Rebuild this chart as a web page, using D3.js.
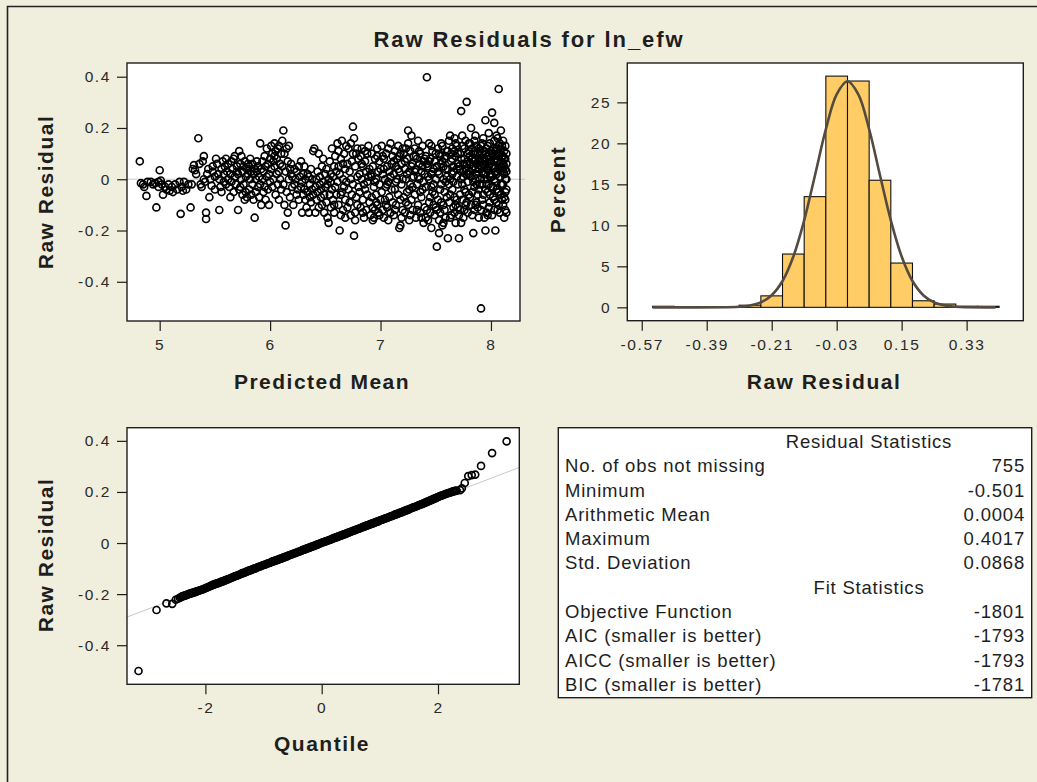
<!DOCTYPE html>
<html><head><meta charset="utf-8">
<script src="https://cdn.jsdelivr.net/npm/d3@7"></script>
<style>
html,body{margin:0;padding:0;background:#F0EEDC;}
svg{display:block;}
</style></head><body>
<svg id="chart" width="1037" height="782"></svg>
<script>
// ---------------- DATA ----------------
const chartTitle = "Raw Residuals for ln_efw";

// Panel 1: predicted mean vs raw residual
const scatterPoints = [
[4.82,.07],[4.83,-.015],[4.85,-.02],[4.86,-.03],[4.88,-.065],[4.89,-.01],
[4.92,-.01],[4.94,-.02],[4.96,-.015],[4.97,-.11],[4.99,-.03],[4.99,-.01],
[5.0,.035],[5.01,-.005],[5.02,-.02],[5.03,-.06],[5.05,-.03],[5.06,-.04],[5.08,-.02],[5.09,-.045],
[5.11,-.03],[5.12,-.05],[5.14,-.02],[5.16,-.04],[5.18,-.01],[5.19,-.135],[5.2,-.03],
[5.21,-.045],[5.22,-.01],[5.24,-.04],[5.26,-.02],[5.28,-.11],[5.29,-.02],[5.3,.04],
[5.31,.055],[5.32,.035],[5.33,.02],[5.35,.16],[5.36,.06],[5.37,-.02],[5.38,-.03],[5.39,.07],[5.4,.09],[5.4,0],
[5.41,-.01],[5.42,-.13],[5.42,-.155],[5.43,.02],[5.44,.04],[5.45,-.07],[5.46,0],[5.47,-.025],[5.48,.05],[5.48,.03],[5.5,-.04],[5.5,.01],
[5.51,.08],[5.52,.06],[5.53,.02],[5.54,-.12],[5.54,0],[5.55,-.03],[5.56,.04],[5.57,.07],[5.58,-.01],[5.58,.02],[5.59,.05],[5.6,-.02],[5.6,.08],[5.56,-.05],
[5.61,.03],[5.62,0],[5.62,.06],[5.63,-.03],[5.64,.02],[5.65,.07],[5.65,-.01],[5.66,.04],[5.67,-.05],[5.68,.01],[5.68,.09],[5.69,-.02],[5.7,.03],[5.7,.05],[5.67,.08],[5.64,-.07],
[5.71,-.12],[5.71,.02],[5.72,.11],[5.72,-.04],[5.73,.06],[5.74,0],[5.74,.09],[5.75,-.06],[5.75,.03],[5.76,.05],[5.76,-.02],[5.77,-.08],[5.77,.07],[5.78,.01],[5.78,-.05],[5.79,.04],[5.79,-.07],[5.8,.02],[5.8,.06],[5.73,-.03],
[5.81,-.04],[5.81,.05],[5.82,0],[5.82,.08],[5.83,-.06],[5.83,.03],[5.84,.06],[5.84,-.02],[5.85,.02],[5.85,-.08],[5.86,-.15],[5.86,.04],[5.87,0],[5.87,-.05],[5.88,.07],[5.88,.03],[5.89,-.03],[5.89,.05],[5.9,.01],[5.9,-.07],
[5.91,.14],[5.91,-.02],[5.92,.04],[5.92,-.1],[5.93,.07],[5.93,0],[5.94,-.05],[5.94,.03],[5.95,.09],[5.95,-.03],[5.96,.05],[5.96,-.08],[5.97,.01],[5.97,.12],[5.98,-.04],[5.98,.06],[5.99,.02],[5.99,-.1],[6.0,.08],[6.0,-.01],
[6.01,.13],[6.01,.04],[6.02,.1],[6.02,-.03],[6.03,.07],[6.03,0],[6.04,.14],[6.04,.05],[6.05,-.06],[6.05,.11],[6.06,.02],[6.06,.08],[6.07,-.02],[6.07,.12],[6.08,.03],[6.08,-.08],[6.09,.06],[6.09,0],[6.1,.1],[6.1,-.04],[6.04,.09],[6.08,.13],
[6.11,.15],[6.11,.05],[6.12,.19],[6.12,-.02],[6.13,.1],[6.13,-.1],[6.14,-.18],[6.14,.03],[6.15,.12],[6.15,-.05],[6.16,.07],[6.16,-.13],[6.17,0],[6.17,.13],[6.18,.04],[6.18,-.07],[6.19,.02],[6.19,.06],[6.2,-.03],[6.2,.01],
[6.21,-.1],[6.22,.04],[6.22,-.02],[6.23,0],[6.24,-.06],[6.24,.03],[6.25,-.04],[6.26,.05],[6.26,-.08],[6.27,.01],[6.28,-.03],[6.28,.07],[6.29,-.13],[6.29,-.01],[6.3,.02],[6.3,-.06],
[6.31,-.04],[6.31,.05],[6.32,-.08],[6.32,0],[6.33,-.11],[6.34,.02],[6.34,-.05],[6.35,-.13],[6.35,.01],[6.36,-.02],[6.36,-.07],[6.37,.04],[6.37,-.09],[6.38,0],[6.38,-.04],[6.39,.11],[6.39,-.06],[6.4,.12],
[6.41,-.13],[6.41,-.03],[6.42,0],[6.42,-.08],[6.43,.03],[6.43,-.05],[6.44,.1],[6.44,-.11],[6.45,-.02],[6.45,.01],[6.46,-.07],[6.46,-.04],[6.47,.05],[6.47,-.1],[6.48,-.01],[6.48,.08],[6.49,-.06],[6.49,-.13],[6.5,.02],[6.5,-.03],
[6.51,-.09],[6.51,.04],[6.52,-.15],[6.52,-.02],[6.53,-.17],[6.53,0],[6.54,-.06],[6.54,.07],[6.55,-.11],[6.55,.02],[6.56,-.04],[6.56,.12],[6.57,-.08],[6.57,.01],[6.58,-.13],[6.58,.05],[6.59,-.03],[6.59,.09],[6.6,-.06],[6.6,.03],[6.55,-.01],[6.58,-.1],
[6.61,.14],[6.61,-.01],[6.62,-.1],[6.62,.05],[6.63,-.2],[6.63,.02],[6.64,-.14],[6.64,.08],[6.65,.15],[6.65,-.05],[6.66,0],[6.66,-.12],[6.67,.1],[6.67,-.03],[6.68,.04],[6.68,-.08],[6.69,.13],[6.69,-.01],[6.7,.06],[6.7,-.11],[6.62,.11],[6.66,.06],[6.68,-.15],[6.64,-.06],
[6.71,.12],[6.71,-.04],[6.72,.03],[6.72,-.09],[6.73,.14],[6.73,0],[6.74,-.06],[6.74,.07],[6.75,.205],[6.75,-.02],[6.76,-.22],[6.76,.16],[6.77,.05],[6.77,-.13],[6.78,.1],[6.78,-.07],[6.79,.01],[6.79,.12],[6.8,-.03],[6.8,.08],[6.73,-.14],[6.77,-.16],[6.75,.1],[6.79,-.1],
[6.81,.02],[6.81,-.05],[6.82,.09],[6.82,-.11],[6.83,0],[6.83,.12],[6.84,-.08],[6.84,.05],[6.85,-.02],[6.85,-.15],[6.86,.07],[6.86,-.04],[6.87,.03],[6.87,-.12],[6.88,.1],[6.88,-.06],[6.89,.01],[6.89,.13],[6.9,-.09],[6.9,.04],[6.84,-.13],[6.86,.11],[6.88,-.01],[6.83,.06],
[6.91,-.14],[6.91,.02],[6.92,-.07],[6.92,.1],[6.93,-.11],[6.93,.05],[6.94,-.03],[6.94,-.15],[6.95,.08],[6.95,-.12],[6.96,0],[6.96,-.06],[6.97,.12],[6.97,-.1],[6.98,.03],[6.98,-.13],[6.99,-.02],[6.99,.07],[7.0,-.08],[7.0,.04],[6.93,-.16],[6.95,-.01],[6.97,.09],[6.99,-.14],[6.92,.01],[6.96,-.09],
[7.01,.13],[7.01,-.05],[7.02,.02],[7.02,-.12],[7.03,.08],[7.03,-.15],[7.04,0],[7.04,-.08],[7.05,.1],[7.05,-.03],[7.06,.05],[7.06,-.11],[7.07,.12],[7.07,-.01],[7.08,.03],[7.08,-.07],[7.09,.14],[7.09,-.13],[7.1,.06],[7.1,-.04],[7.03,.04],[7.05,-.1],[7.07,-.16],[7.09,.01],[7.02,.09],[7.06,-.02],
[7.11,.09],[7.11,-.09],[7.12,.02],[7.12,-.14],[7.13,.11],[7.13,-.04],[7.14,.05],[7.14,-.1],[7.15,0],[7.15,.08],[7.16,-.06],[7.16,.13],[7.17,-.19],[7.17,.03],[7.18,-.18],[7.18,.1],[7.19,-.02],[7.19,.06],[7.2,-.12],[7.2,.12],[7.12,.07],[7.14,-.01],[7.16,.04],[7.18,-.08],[7.2,0],[7.13,-.12],[7.17,.09],[7.19,-.15],
[7.21,.1],[7.21,-.07],[7.22,.04],[7.22,-.13],[7.23,.12],[7.23,0],[7.24,-.05],[7.24,.08],[7.25,.19],[7.25,-.1],[7.26,.03],[7.26,-.16],[7.27,.11],[7.27,-.02],[7.28,.17],[7.28,-.08],[7.29,.06],[7.29,-.12],[7.3,.01],[7.3,.09],[7.22,.07],[7.24,.02],[7.26,-.04],[7.28,.05],[7.23,-.09],[7.25,.14],[7.27,-.14],[7.29,-.03],
[7.31,-.06],[7.31,.12],[7.32,.04],[7.32,-.15],[7.33,.08],[7.33,-.02],[7.34,.15],[7.34,-.1],[7.35,0],[7.35,.06],[7.36,-.13],[7.36,.1],[7.37,.03],[7.37,-.07],[7.38,.13],[7.38,-.04],[7.39,.07],[7.39,-.17],[7.4,.02],[7.4,-.11],[7.32,.09],[7.34,.01],[7.36,-.05],[7.38,.05],[7.33,-.12],[7.35,.11],[7.37,-.15],[7.39,-.01],[7.31,.03],[7.4,.08],
[7.41,.09],[7.41,-.03],[7.42,.398],[7.42,-.12],[7.43,.05],[7.43,-.16],[7.44,.14],[7.44,0],[7.45,-.07],[7.45,.08],[7.46,.02],[7.46,-.19],[7.47,.11],[7.47,-.05],[7.48,.04],[7.48,-.1],[7.49,.07],[7.49,-.14],[7.5,0],[7.5,.1],[7.42,.06],[7.44,-.09],[7.46,.13],[7.48,-.02],[7.43,.01],[7.45,-.13],[7.47,.03],[7.49,-.06],[7.41,-.15],[7.44,.07],[7.46,-.03],[7.5,-.11],
[7.51,-.263],[7.51,.05],[7.52,-.08],[7.52,.12],[7.53,-.21],[7.53,.02],[7.54,.09],[7.54,-.13],[7.55,-.02],[7.55,.06],[7.56,-.18],[7.56,.13],[7.57,0],[7.57,-.1],[7.58,.08],[7.58,-.05],[7.59,.04],[7.59,-.15],[7.6,.11],[7.6,-.07],[7.52,.03],[7.54,-.04],[7.56,.07],[7.58,-.12],[7.53,.1],[7.55,-.09],[7.57,.05],[7.59,-.01],[7.51,-.12],[7.53,-.16],[7.55,.14],[7.57,-.17],[7.59,.09],[7.6,.01],
[7.61,-.23],[7.61,.04],[7.62,.15],[7.62,-.09],[7.63,0],[7.63,.17],[7.64,-.14],[7.64,.07],[7.65,.12],[7.65,-.04],[7.66,.03],[7.66,-.11],[7.67,.16],[7.67,-.07],[7.68,.09],[7.68,-.17],[7.69,.01],[7.69,.13],[7.7,-.02],[7.7,.06],[7.62,-.02],[7.64,.1],[7.66,.05],[7.68,-.1],[7.63,-.06],[7.65,.08],[7.67,-.13],[7.69,.04],[7.61,.11],[7.63,-.15],[7.65,.02],[7.67,.11],[7.69,-.08],[7.7,.1],[7.66,-.01],[7.68,.14],
[7.71,-.23],[7.71,.05],[7.72,-.12],[7.72,.1],[7.73,.266],[7.73,0],[7.74,-.08],[7.74,.13],[7.75,.03],[7.75,-.15],[7.76,.08],[7.76,-.04],[7.77,.15],[7.77,-.1],[7.78,.302],[7.78,.02],[7.79,.07],[7.79,-.13],[7.8,.11],[7.8,-.06],[7.72,.04],[7.74,-.02],[7.76,.12],[7.78,-.09],[7.73,.08],[7.75,.01],[7.77,-.05],[7.79,.1],[7.71,-.14],[7.73,-.17],[7.75,.06],[7.77,.04],[7.79,-.01],[7.8,.14],[7.76,-.12],[7.74,.17],[7.72,-.06],[7.78,.06],[7.8,.02],[7.7,-.11],
[7.81,.09],[7.81,-.07],[7.82,.2],[7.82,.01],[7.83,-.14],[7.83,.12],[7.84,.05],[7.84,-.21],[7.85,.15],[7.85,-.03],[7.86,.08],[7.86,-.1],[7.87,.02],[7.87,.13],[7.88,-.06],[7.88,.1],[7.89,.04],[7.89,-.15],[7.9,.07],[7.9,-.02],[7.82,.06],[7.84,.1],[7.86,0],[7.88,.03],[7.83,-.05],[7.85,.07],[7.87,-.09],[7.89,.12],[7.81,.14],[7.83,.04],[7.85,-.12],[7.87,.06],[7.89,-.04],[7.9,.11],[7.86,.17],[7.84,-.01],[7.82,-.1],[7.88,-.11],[7.9,0],[7.81,.03],[7.83,.08],[7.85,.11],[7.87,-.02],[7.89,.08],[7.86,.04],
[7.91,-.504],[7.91,.05],[7.92,.1],[7.92,-.08],[7.93,.16],[7.93,.02],[7.94,-.15],[7.94,.08],[7.95,.23],[7.95,-.2],[7.96,.04],[7.96,.12],[7.97,-.05],[7.97,.09],[7.98,.18],[7.98,-.11],[7.99,.01],[7.99,.14],[8.0,-.03],[8.0,.07],[7.92,.03],[7.94,.11],[7.96,-.02],[7.98,.05],[7.93,-.06],[7.95,.1],[7.97,0],[7.99,.06],[7.91,-.12],[7.93,.07],[7.95,-.04],[7.97,.13],[7.99,-.09],[8.0,.11],[7.96,-.13],[7.94,0],[7.92,-.02],[7.98,.09],[8.0,.02],[7.91,.13],[7.93,-.1],[7.95,.06],[7.97,.04],[7.99,-.06],[7.96,.08],[7.92,.14],[7.94,.05],[7.98,-.02],[7.97,-.14],[7.95,.02],
[8.01,.26],[8.01,.05],[8.02,-.07],[8.02,.12],[8.03,.22],[8.03,0],[8.04,-.2],[8.04,.08],[8.05,.17],[8.05,-.04],[8.06,.1],[8.06,.03],[8.07,.352],[8.07,-.1],[8.08,.14],[8.08,.06],[8.09,-.02],[8.09,.19],[8.1,.09],[8.1,-.08],[8.02,.04],[8.04,.11],[8.06,-.05],[8.08,.01],[8.03,-.12],[8.05,.08],[8.07,.04],[8.09,.12],[8.01,-.14],[8.03,.07],[8.05,.02],[8.07,.13],[8.09,-.06],[8.1,.05],[8.06,.16],[8.04,-.01],[8.02,-.03],[8.08,-.13],[8.1,.13],[8.01,.1],[8.03,.15],[8.05,-.09],[8.07,.09],[8.09,.03],[8.06,-.12],[8.02,.09],[8.04,.03],[8.08,.1],[8.1,-.02],[8.05,.12],[8.07,-.05],[8.09,.07],[8.03,-.08],[8.01,.01],[8.06,.07],
[8.11,.06],[8.11,-.1],[8.12,.02],[8.12,.11],[8.13,-.05],[8.13,.08],[8.14,.03],[8.14,-.13],[8.11,.15],[8.12,-.07],[8.13,0],[8.14,.1],[8.11,-.02],[8.12,.05],[8.13,-.12],[8.14,-.04],[8.11,.09],[8.12,-.15],[8.13,.13],[8.14,.06],[8.11,.03],[8.13,-.08],[8.12,.08],[8.14,0],[8.13,.04]
];
const predTicks = [5, 6, 7, 8];
const residTicks = [0.4, 0.2, 0, -0.2, -0.4];

// Panel 2: histogram of raw residuals (percent per bin) and fitted normal curve
const histMidpoints = [-0.51, -0.27, -0.21, -0.15, -0.09, -0.03, 0.03, 0.09, 0.15, 0.21, 0.27, 0.33, 0.39];
const histPercents  = [0.13, 0.26, 1.4, 6.5, 13.5, 28.2, 27.6, 15.5, 5.4, 0.8, 0.4, 0.13, 0.13];
const histBinWidth = 0.06;
const curveX = [-0.54,-0.30,-0.27,-0.24,-0.21,-0.18,-0.15,-0.12,-0.09,-0.06,-0.03,0,0.03,0.06,0.09,0.12,0.15,0.18,0.21,0.24,0.27,0.30,0.33,0.41];
const curveY = [0,0.07,0.22,0.6,1.48,3.21,6.2,10.61,16.11,21.72,25.98,27.58,25.98,21.72,16.11,10.61,6.2,3.21,1.48,0.6,0.22,0.07,0.02,0];
const histTicks = [-0.57, -0.39, -0.21, -0.03, 0.15, 0.33];
const percentTicks = [0, 5, 10, 15, 20, 25];

// Panel 3: normal quantile plot [quantile, raw residual]
const qqPoints = [
[-3.15,-.501],[-2.84,-.262],[-2.67,-.236],[-2.57,-.238],[-2.51,-.222],[-2.47,-.218],
[-2.44,-.214],[-2.40,-.209],[-2.36,-.206],[-2.32,-.203],[-2.28,-.199],[-2.24,-.196],[-2.20,-.193],[-2.16,-.190],[-2.12,-.187],[-2.08,-.184],
[-2.04,-.181],[-2.00,-.177],[-1.96,-.173],[-1.92,-.169],[-1.88,-.165],[-1.84,-.161],[-1.80,-.158],[-1.76,-.155],[-1.72,-.151],[-1.68,-.148],
[-1.64,-.144],[-1.60,-.141],[-1.56,-.137],[-1.52,-.133],[-1.48,-.129],[-1.44,-.126],[-1.40,-.122],[-1.36,-.118],[-1.32,-.115],[-1.28,-.111],
[-1.24,-.107],[-1.20,-.104],[-1.16,-.100],[-1.12,-.097],[-1.08,-.093],[-1.04,-.090],[-1.00,-.086],[-0.96,-.083],[-0.92,-.079],[-0.88,-.076],
[-0.84,-.072],[-0.80,-.069],[-0.76,-.066],[-0.72,-.062],[-0.68,-.059],[-0.64,-.055],[-0.60,-.052],[-0.56,-.048],[-0.52,-.045],[-0.48,-.041],
[-0.44,-.038],[-0.40,-.034],[-0.36,-.031],[-0.32,-.027],[-0.28,-.024],[-0.24,-.020],[-0.20,-.017],[-0.16,-.013],[-0.12,-.010],[-0.08,-.006],
[-0.04,-.003],[0.00,.001],[0.04,.004],[0.08,.007],[0.12,.011],[0.16,.014],[0.20,.018],[0.24,.021],[0.28,.025],[0.32,.028],
[0.36,.032],[0.40,.035],[0.44,.039],[0.48,.042],[0.52,.046],[0.56,.049],[0.60,.053],[0.64,.056],[0.68,.060],[0.72,.063],
[0.76,.067],[0.80,.070],[0.84,.074],[0.88,.077],[0.92,.081],[0.96,.084],[1.00,.088],[1.04,.091],[1.08,.095],[1.12,.098],
[1.16,.102],[1.20,.105],[1.24,.109],[1.28,.112],[1.32,.116],[1.36,.119],[1.40,.123],[1.44,.127],[1.48,.130],[1.52,.134],
[1.56,.138],[1.60,.141],[1.64,.145],[1.68,.149],[1.72,.152],[1.76,.156],[1.80,.160],[1.84,.164],[1.88,.168],[1.92,.172],
[1.96,.176],[2.00,.180],[2.04,.184],[2.08,.187],[2.12,.191],[2.16,.194],[2.20,.197],[2.24,.200],[2.28,.203],[2.32,.205],
[2.38,.207],[2.41,.214],[2.46,.235],[2.52,.262],[2.58,.266],[2.64,.268],[2.74,.302],[2.93,.352],[3.18,.398],
[-2.42,-.212],[-2.38,-.208],[-2.34,-.205],[-2.30,-.201],[-2.26,-.198],[-2.22,-.195],[-2.18,-.192],[-2.14,-.189],[-2.10,-.186],[-2.06,-.183],
[-2.02,-.179],[-1.98,-.175],[-1.94,-.171],[-1.90,-.167],[-1.86,-.163],[-1.82,-.160],[-1.78,-.157],[-1.74,-.153],[-1.70,-.150],[-1.66,-.146],
[-1.62,-.143],[-1.58,-.139],[-1.54,-.135],[-1.50,-.131],[-1.46,-.128],[-1.42,-.124],[-1.38,-.120],[-1.34,-.117],[-1.30,-.113],[-1.26,-.109],
[-1.22,-.106],[-1.18,-.102],[-1.14,-.099],[-1.10,-.095],[-1.06,-.092],[-1.02,-.088],[-0.98,-.085],[-0.94,-.081],[-0.90,-.078],[-0.86,-.074],
[-0.82,-.071],[-0.78,-.068],[-0.74,-.064],[-0.70,-.061],[-0.66,-.057],[-0.62,-.054],[-0.58,-.050],[-0.54,-.047],[-0.50,-.043],[-0.46,-.040],
[-0.42,-.036],[-0.38,-.033],[-0.34,-.029],[-0.30,-.026],[-0.26,-.022],[-0.22,-.019],[-0.18,-.015],[-0.14,-.012],[-0.10,-.008],[-0.06,-.005],
[-0.02,-.001],[0.02,.003],[0.06,.006],[0.10,.009],[0.14,.013],[0.18,.016],[0.22,.020],[0.26,.023],[0.30,.027],[0.34,.030],
[0.38,.034],[0.42,.037],[0.46,.041],[0.50,.044],[0.54,.048],[0.58,.051],[0.62,.055],[0.66,.058],[0.70,.062],[0.74,.065],
[0.78,.069],[0.82,.072],[0.86,.076],[0.90,.079],[0.94,.083],[0.98,.086],[1.02,.090],[1.06,.093],[1.10,.097],[1.14,.100],
[1.18,.104],[1.22,.107],[1.26,.111],[1.30,.114],[1.34,.118],[1.38,.121],[1.42,.125],[1.46,.129],[1.50,.132],[1.54,.136],
[1.58,.140],[1.62,.143],[1.66,.147],[1.70,.151],[1.74,.154],[1.78,.158],[1.82,.162],[1.86,.166],[1.90,.170],[1.94,.174],
[1.98,.178],[2.02,.182],[2.06,.186],[2.10,.189],[2.14,.193],[2.18,.196],[2.22,.199],[2.26,.202],[2.30,.204]
];
const qqLineQuantile = [-3.35, 3.40];
const qqLineResidual = [-0.290, 0.296];
const quantileTicks = [-2, 0, 2];

// Panel 4: statistics table
const statHeader = "Residual Statistics";
const statLabels = ["No. of obs not missing", "Minimum", "Arithmetic Mean", "Maximum", "Std. Deviation"];
const statValues = ["755", "-0.501", "0.0004", "0.4017", "0.0868"];
const fitHeader = "Fit Statistics";
const fitLabels = ["Objective Function", "AIC (smaller is better)", "AICC (smaller is better)", "BIC (smaller is better)"];
const fitValues = ["-1801", "-1793", "-1793", "-1781"];

// ---------------- DRAWING ----------------
const FONT = "'Liberation Sans', Arial, sans-serif";
const INK = "#1e1e1e";
const svg = d3.select("#chart");

// outer border (top/left)
svg.append("path").attr("d", "M7.5,782V6.5H1037").attr("fill", "none").attr("stroke", "#222").attr("stroke-width", 1.6);

// title
svg.append("text").attr("x", 529).attr("y", 47).attr("text-anchor", "middle")
  .attr("font-family", FONT).attr("font-weight", "bold").attr("font-size", 22)
  .style("letter-spacing", "1.9px").attr("fill", INK).text(chartTitle);

function styleAxis(g) {
  g.select(".domain").remove();
  g.selectAll(".tick line").attr("stroke", INK).attr("stroke-width", 1.2);
  g.selectAll(".tick text").attr("fill", "#2a2a2a")
    .style("font-family", FONT).style("font-size", "15.5px").style("letter-spacing", "1.6px");
}
function frameBg(x0, y0, x1, y1) {
  svg.append("rect").attr("x", x0).attr("y", y0).attr("width", x1 - x0).attr("height", y1 - y0).attr("fill", "#FFFFFF");
}
function frameStroke(x0, y0, x1, y1) {
  svg.append("rect").attr("x", x0).attr("y", y0).attr("width", x1 - x0).attr("height", y1 - y0)
    .attr("fill", "none").attr("stroke", INK).attr("stroke-width", 1.4);
}
function axisLabel(x, y, txt, rotate) {
  const t = svg.append("text").attr("text-anchor", "middle").attr("font-family", FONT)
    .attr("font-weight", "bold").attr("font-size", 21).style("letter-spacing", "1.5px").attr("fill", INK).text(txt);
  if (rotate) t.attr("transform", `translate(${x},${y}) rotate(-90)`); else t.attr("x", x).attr("y", y);
}
const MARK_R = 3.5, MARK_W = 1.65;

// ---- Panel 1: scatter
{
  const L = 127, T = 63, R = 520, B = 321;
  const x = d3.scaleLinear().domain([4.704, 8.263]).range([L, R]);
  const y = d3.scaleLinear().domain([-0.553, 0.4535]).range([B, T]);
  frameBg(L, T, R, B);
  svg.append("line").attr("x1", L).attr("x2", R + 5).attr("y1", y(0)).attr("y2", y(0))
    .attr("stroke", "#c8c8c8").attr("stroke-width", 1);
  svg.append("g").selectAll("circle").data(scatterPoints).join("circle")
    .attr("cx", d => x(d[0])).attr("cy", d => y(d[1])).attr("r", MARK_R)
    .attr("fill", "none").attr("stroke", "#000").attr("stroke-width", MARK_W);
  frameStroke(L, T, R, B);
  svg.append("g").attr("transform", `translate(${L},0)`)
    .call(d3.axisLeft(y).tickValues(residTicks).tickFormat(d => String(d)).tickSize(10).tickPadding(6)).call(styleAxis);
  svg.append("g").attr("transform", `translate(0,${B})`)
    .call(d3.axisBottom(x).tickValues(predTicks).tickFormat(d => String(d)).tickSize(10).tickPadding(8)).call(styleAxis);
  axisLabel(322, 389, "Predicted Mean", false);
  axisLabel(53, 192, "Raw Residual", true);
}

// ---- Panel 2: histogram
{
  const L = 627.3, T = 63, R = 1023.3, B = 320.7;
  const x = d3.scaleLinear().domain([-0.61, 0.487]).range([L, R]);
  const y = d3.scaleLinear().domain([-1.63, 29.8]).range([B, T]);
  frameBg(L, T, R, B);
  const bins = histMidpoints.map((m, i) => ({ m, p: histPercents[i] }));
  svg.append("g").selectAll("rect").data(bins).join("rect")
    .attr("x", d => x(d.m - histBinWidth / 2)).attr("width", d => x(d.m + histBinWidth / 2) - x(d.m - histBinWidth / 2))
    .attr("y", d => y(d.p)).attr("height", d => y(0) - y(d.p))
    .attr("fill", "#FFCC66").attr("stroke", "#111").attr("stroke-width", 1.1);
  const line = d3.line().x(d => x(d[0])).y(d => y(d[1])).curve(d3.curveCatmullRom);
  svg.append("path").datum(curveX.map((v, i) => [v, curveY[i]])).attr("d", line)
    .attr("fill", "none").attr("stroke", "#544a40").attr("stroke-width", 2.6).attr("stroke-linejoin", "round");
  frameStroke(L, T, R, B);
  svg.append("g").attr("transform", `translate(${L},0)`)
    .call(d3.axisLeft(y).tickValues(percentTicks).tickFormat(d => String(d)).tickSize(10).tickPadding(6)).call(styleAxis);
  svg.append("g").attr("transform", `translate(0,${B})`)
    .call(d3.axisBottom(x).tickValues(histTicks).tickFormat(d => d.toFixed(2)).tickSize(10).tickPadding(8)).call(styleAxis);
  axisLabel(824, 389, "Raw Residual", false);
  axisLabel(565, 189.5, "Percent", true);
}

// ---- Panel 3: QQ plot
{
  const L = 127, T = 427.7, R = 519.3, B = 684.3;
  const x = d3.scaleLinear().domain([-3.348, 3.398]).range([L, R]);
  const y = d3.scaleLinear().domain([-0.553, 0.4515]).range([B, T]);
  frameBg(L, T, R, B);
  svg.append("line")
    .attr("x1", x(qqLineQuantile[0])).attr("x2", x(qqLineQuantile[1]))
    .attr("y1", y(qqLineResidual[0])).attr("y2", y(qqLineResidual[1]))
    .attr("stroke", "#c8c8c8").attr("stroke-width", 1);
  svg.append("g").selectAll("circle").data(qqPoints).join("circle")
    .attr("cx", d => x(d[0])).attr("cy", d => y(d[1])).attr("r", MARK_R)
    .attr("fill", "none").attr("stroke", "#000").attr("stroke-width", MARK_W);
  frameStroke(L, T, R, B);
  svg.append("g").attr("transform", `translate(${L},0)`)
    .call(d3.axisLeft(y).tickValues(residTicks).tickFormat(d => String(d)).tickSize(10).tickPadding(6)).call(styleAxis);
  svg.append("g").attr("transform", `translate(0,${B})`)
    .call(d3.axisBottom(x).tickValues(quantileTicks).tickFormat(d => String(d)).tickSize(10).tickPadding(8)).call(styleAxis);
  axisLabel(322, 751, "Quantile", false);
  axisLabel(53, 555, "Raw Residual", true);
}

// ---- Panel 4: table
{
  const L = 558.3, T = 427.7, R = 1031.7, B = 697.7;
  frameBg(L, T, R, B);
  frameStroke(L, T, R, B);
  const rows = [];
  rows.push({ header: statHeader });
  statLabels.forEach((l, i) => rows.push({ label: l, value: statValues[i] }));
  rows.push({ header: fitHeader });
  fitLabels.forEach((l, i) => rows.push({ label: l, value: fitValues[i] }));
  const ry = d3.scaleLinear().domain([0, rows.length - 1]).range([441.3, 684.3]);
  const g = svg.append("g").attr("font-family", FONT).attr("font-size", 18.5).attr("fill", INK)
    .style("letter-spacing", "0.8px");
  rows.forEach((r, i) => {
    if (r.header) {
      g.append("text").attr("x", 869).attr("y", ry(i)).attr("dy", "0.36em").attr("text-anchor", "middle").text(r.header);
    } else {
      g.append("text").attr("x", 565).attr("y", ry(i)).attr("dy", "0.36em").text(r.label);
      g.append("text").attr("x", 1025).attr("y", ry(i)).attr("dy", "0.36em").attr("text-anchor", "end").text(r.value);
    }
  });
}
</script>
</body></html>
